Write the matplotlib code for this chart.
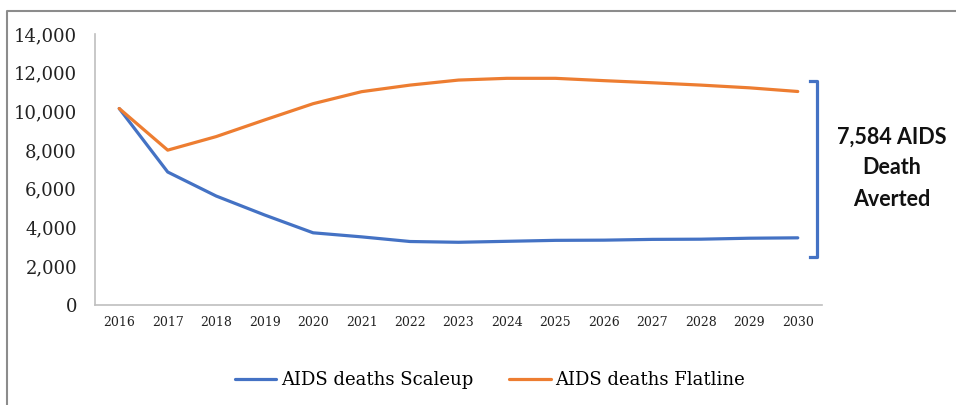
import matplotlib.pyplot as plt
from matplotlib.lines import Line2D

# data
years = ['2016', '2017', '2018', '2019', '2020', '2021', '2022', '2023',
         '2024', '2025', '2026', '2027', '2028', '2029', '2030']
scaleup = [10150, 6870, 5630, 4650, 3730, 3520, 3280, 3240,
           3290, 3340, 3350, 3390, 3400, 3450, 3470]
flatline = [10150, 8000, 8700, 9560, 10400, 11020, 11360, 11620,
            11710, 11710, 11590, 11480, 11360, 11220, 11030]
yticks = [0, 2000, 4000, 6000, 8000, 10000, 12000, 14000]
note = '7,584 AIDS\nDeath\nAverted'

blue = '#4472C4'
orange = '#ED7D31'

fig = plt.figure(figsize=(9.56, 4.05), dpi=100)
ax = fig.add_axes([95 / 956, 100 / 405, 727 / 956, 271 / 405])

x = range(len(years))
ax.plot(x, scaleup, color=blue, lw=2.3, label='AIDS deaths Scaleup', solid_capstyle='round')
ax.plot(x, flatline, color=orange, lw=2.3, label='AIDS deaths Flatline', solid_capstyle='round')

ax.set_xlim(-0.5, len(years) - 0.5)
ax.set_ylim(0, 14000)
ax.set_xticks(list(x))
ax.set_xticklabels(years, family='DejaVu Serif', fontsize=9)
ax.set_yticks(yticks)
ax.set_yticklabels([f'{v:,}' for v in yticks], family='DejaVu Serif', fontsize=13)
ax.tick_params(axis='both', length=0, colors='#222222')
ax.tick_params(axis='y', pad=13)
ax.tick_params(axis='x', pad=8)
for s in ['top', 'right']:
    ax.spines[s].set_visible(False)
for s in ['left', 'bottom']:
    ax.spines[s].set_color('#bfbfbf')
    ax.spines[s].set_linewidth(1.2)

# bracket and note
bx = 817 / 956
fig.add_artist(Line2D([810 / 956, bx, bx, 810 / 956],
                      [1 - 81 / 405, 1 - 81 / 405, 1 - 257 / 405, 1 - 257 / 405],
                      color=blue, lw=2.3, transform=fig.transFigure))
fig.text(892 / 956, 1 - 168 / 405, note, ha='center', va='center',
         fontsize=15.5, fontweight='bold', family='Lato', linespacing=1.6, color='#111111')

# legend
fig.legend(loc='center', bbox_to_anchor=(490 / 956, 1 - 380 / 405), ncol=2, frameon=False,
           prop={'family': 'DejaVu Serif', 'size': 13}, handlelength=2.3,
           handletextpad=0.25, columnspacing=2.0)

# outer border (top and left only)
fig.add_artist(Line2D([6.5 / 956, 6.5 / 956, 1], [0, 1 - 10.5 / 405, 1 - 10.5 / 405],
                      color='#8c8c8c', lw=1.5, transform=fig.transFigure))

fig.savefig('out.png', dpi=100)
